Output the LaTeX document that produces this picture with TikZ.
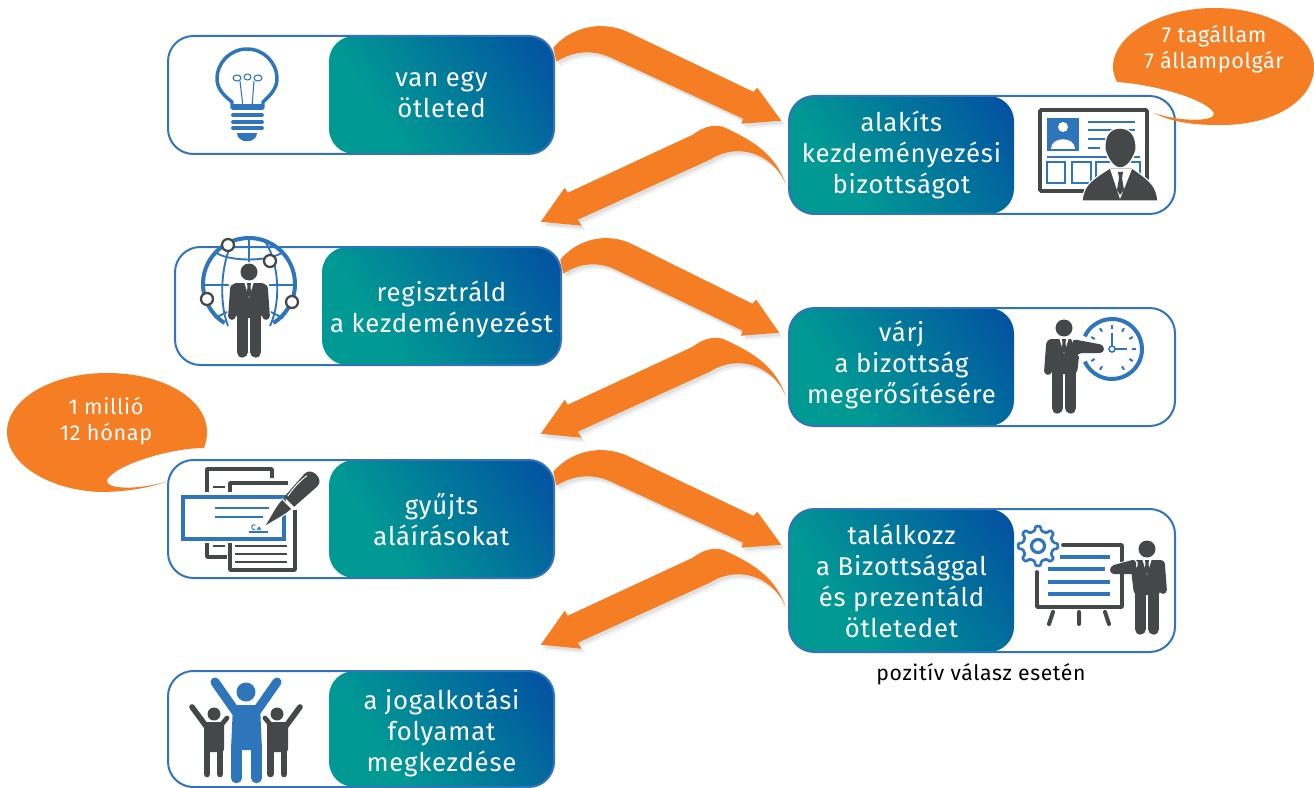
\documentclass[tikz,border=0pt]{standalone}
\usepackage{fontspec}
\setmainfont[LetterSpace=3.0]{Fira Sans}
\usetikzlibrary{calc}
\definecolor{iconblue}{RGB}{46,117,187}
\definecolor{linkblue}{RGB}{50,115,185}
\definecolor{darkgrey}{RGB}{69,72,73}
\definecolor{orangeA}{RGB}{245,126,37}
\definecolor{tealA}{RGB}{0,153,148}
\definecolor{navyA}{RGB}{3,78,162}
\pgfdeclarehorizontalshading{tealnavy}{100bp}{color(0bp)=(tealA); color(33bp)=(tealA); color(85bp)=(navyA); color(100bp)=(navyA)}
\tikzset{
  outerbox/.style={draw=linkblue,line width=1.5pt,rounded corners=19pt,inner sep=0pt},
  innerbox/.style={rounded corners=19pt,inner sep=0pt,shading=tealnavy,shading angle=35},
  cardtext/.style={text=white,align=center,inner sep=0pt,font=\fontsize{19.3}{23.3}\selectfont},
  bubbletext/.style={text=white,align=center,font=\fontsize{16.2}{20}\selectfont},
  flowarrow/.style={fill=orangeA},
  ic/.style={draw=iconblue,line width=1.5pt},
  icthin/.style={draw=iconblue,line width=1.4pt},
  dk/.style={draw=darkgrey,line width=2.8pt},
}
% name, outer x1 y1 x2 y2, teal x1 x2, text, text nudge
\newcommand\stepcard[9]{%
  \pgfmathsetmacro\tcw{(#7-#6)*0.75}%
  \pgfmathsetmacro\tch{(#5-#3)*0.75}%
  \pgfmathsetmacro\ocw{(#4-#2)*0.75}%
  \node[innerbox,minimum width=\tcw pt,minimum height=\tch pt] (t#1) at ({(#6+#7)/2},{(#3+#5)/2}) {};
  \node[cardtext] (l#1) at ({(#6+#7)/2},{(#3+#5)/2+#9}) {#8};
  \node[outerbox,minimum width=\ocw pt,minimum height=\tch pt] (o#1) at ({(#2+#4)/2},{(#3+#5)/2}) {};
}
\newcommand\rightflow{(-1,12) .. controls (16,-8) and (46,-16) .. (73,-4) -- (199,56) -- (203,52) -- (227,85) -- (187,88) -- (189,83) -- (59,23) .. controls (41,14) and (21,14) .. (2,26) -- cycle}
\newcommand\leftflow{(-3,89) .. controls (-12,62) and (-30,47) .. (-66,31) .. controls (-78,28) and (-88,33) .. (-96,39) -- (-221,97) -- (-224,92) -- (-248,126) -- (-207,130) -- (-211,124) -- (-79,64) .. controls (-60,52) and (-40,54) .. (-26,62) .. controls (-16,68) and (-8,76) .. (-3,89) -- cycle}
\newcommand\drawflow[1]{%
  \fill[black,opacity=.05] [shift={(4,5)}] #1;
  \fill[black,opacity=.07] [shift={(2,3)}] #1;
  \fill[flowarrow] #1;
}
% standing man, head centre at #1,#2
\newcommand\suitman[2]{%
  \begin{scope}[shift={(#1,#2)}]
    \fill[darkgrey] (0,0) circle (8.5);
    \fill[darkgrey,rounded corners=3pt] (-17,11) -- (17,11) -- (13,46) -- (-13,46) -- cycle;
    \draw[darkgrey,line width=8.4pt,line cap=round] (-6.6,42) -- (-6.6,80) (6.6,42) -- (6.6,80);
    \fill[white] (-4.5,11) -- (0,26) -- (4.5,11) -- cycle;
    \fill[darkgrey] (-2,11) -- (2,11) -- (1.5,15) -- (2.5,22) -- (0,25) -- (-2.5,22) -- (-1.5,15) -- cycle;
  \end{scope}}
\begin{document}
\begin{tikzpicture}[x=0.75pt,y=-0.75pt]
\useasboundingbox (0,0) rectangle (1314,788);
\fill[white] (0,0) rectangle (1314,788);

% cards
\stepcard{a}{168}{36}{554}{154}{329}{554}{van egy\\ötleted}{0}
\stepcard{b}{789}{96}{1175}{214}{789}{1014}{alakíts\\kezdeményezési\\bizottságot}{0}
\stepcard{c}{175}{247}{561}{365}{322}{561}{regisztráld\\a kezdeményezést}{3}
\stepcard{d}{789}{308}{1175}{426}{789}{1014}{várj\\a bizottság\\megerősítésére}{-2}
\stepcard{e}{168}{460}{554}{578}{329}{554}{gyűjts\\aláírásokat}{0}
\stepcard{f}{789}{509}{1175}{652}{789}{1014}{találkozz\\a Bizottsággal\\és prezentáld\\ötletedet}{0}
\stepcard{g}{168}{671}{554}{787}{329}{554}{a jogalkotási\\folyamat\\megkezdése}{4}

% flow arrows
\begin{scope}[shift={(ta.north east)}]\drawflow{\rightflow}\end{scope}
\begin{scope}[shift={(tb.north west)}]\drawflow{\leftflow}\end{scope}
\begin{scope}[shift={($(tc.north east)+(0,1)$)},xscale=.96]\drawflow{\rightflow}\end{scope}
\begin{scope}[shift={(td.north west)}]\drawflow{\leftflow}\end{scope}
\begin{scope}[shift={(te.north east)}]\drawflow{\rightflow}\end{scope}
\begin{scope}[shift={($(tf.north west)+(0,10)$)}]\drawflow{\leftflow}\end{scope}

% bubbles
\fill[orangeA] (1117,82) .. controls (1150,84) and (1205,98) .. (1214,113) .. controls (1216,122) and (1180,122) .. (1154,113) .. controls (1175,124) and (1200,125) .. (1221,125) .. controls (1275,125) and (1314,100) .. (1314,67) .. controls (1314,35) and (1270,8) .. (1214,8) .. controls (1160,8) and (1113,35) .. (1113,67) .. controls (1113,73) and (1115,78) .. (1117,82) -- cycle;
\node[bubbletext] (bubA) at (1214,49) {7 tagállam\\7 állampolgár};
\fill[orangeA] (204,448) .. controls (170,448) and (115,465) .. (107,480) .. controls (105,490) and (140,490) .. (168,481) .. controls (150,488) and (125,492) .. (100,492) .. controls (50,490) and (7,465) .. (7,432) .. controls (7,400) and (50,373) .. (107,373) .. controls (165,373) and (207,400) .. (207,432) .. controls (207,438) and (206,443) .. (204,448) -- cycle;
\node[bubbletext] (bubB) at (106,421) {1 millió\\12 hónap};

\node[text=black,font=\fontsize{15.9}{18}\selectfont] (note) at (981,674) {pozitív válasz esetén};

% --- bulb
\draw[ic,line width=2.6pt,line join=round] (232,108) -- (232,102) .. controls (226,97) and (217,90) .. (217,79) arc (180:360:30) .. controls (277,90) and (268,97) .. (263,102) -- (263,108) -- cycle;
\fill[iconblue] (232,104) rectangle (263,110);
\draw[iconblue,line width=.8pt] (243,107) -- (240,81) (252,107) -- (254,81);
\draw[iconblue,line width=.8pt] (237,78) ellipse (4 and 3) (247.5,77) ellipse (3.5 and 3) (258,78) ellipse (4 and 3);
\draw[iconblue,line width=2.8pt,line cap=round] (233,115) -- (262,115) (233,122) -- (262,122) (233,128) -- (262,128);
\fill[iconblue] (237,133) -- (257,133) .. controls (257,144) and (237,144) .. (237,133) -- cycle;

% --- presenter with card
\draw[dk,rounded corners=1pt] (1040,110) rectangle (1147,191);
\fill[iconblue] (1047,118) rectangle (1079,151);
\fill[white] (1063,127) circle (5);
\fill[white] (1051,149) .. controls (1051,136) and (1075,136) .. (1075,149) -- cycle;
\draw[icthin] (1088,122) -- (1135,122) (1088,130) -- (1135,130) (1088,139) -- (1110,139) (1088,148) -- (1100,148) (1047,157) -- (1140,157);
\draw[ic,line width=1.7pt] (1047,162) rectangle (1065,183) (1072,162) rectangle (1091,183) (1096,162) rectangle (1140,183);
\fill[darkgrey,draw=white,line width=1pt] (1120,128) .. controls (1108,128) and (1104,138) .. (1105,150) .. controls (1108,160) and (1114,168) .. (1120,168) .. controls (1127,168) and (1133,160) .. (1136,150) .. controls (1137,138) and (1132,128) .. (1120,128) -- cycle;
\fill[darkgrey,draw=white,line width=.8pt] (1082,201) .. controls (1084,186) and (1088,182) .. (1110,168) -- (1132,168) .. controls (1152,182) and (1156,186) .. (1158,201) -- cycle;
\fill[white] (1110,169) -- (1120,199) -- (1132,169) -- cycle;
\fill[darkgrey] (1118,172) -- (1123,172) -- (1122,178) -- (1124,190) -- (1120,195) -- (1117,190) -- (1119,178) -- cycle;

% --- globe man
\draw[ic,line width=3pt] (249,284) ++(122:46) arc (122:418:46);
\draw[icthin] (249,238) -- (249,262) (203,285) -- (230,285) (268,285) -- (295,285);
\draw[icthin] (232,243) .. controls (222,262) and (218,300) .. (228,326) (266,243) .. controls (278,262) and (282,300) .. (270,326);
\draw[icthin] (215,252) .. controls (228,262) and (270,262) .. (283,252) (215,318) -- (227,312) (283,318) -- (271,312);
\foreach \cx/\cy in {228/245,270/261,207/299,292/302}{\fill[white,draw=darkgrey,line width=1.7pt] (\cx,\cy) circle (6);}
\draw[white,line width=1.5pt] (230,284) -- (229,322) (268,284) -- (269,322);
\suitman{249}{272}
\draw[darkgrey,line width=5.8pt,line cap=round] (234,288) -- (232,316) (264,288) -- (266,316);

% --- clock man
\draw[ic,line width=3pt] (1112,349) ++(205:30) arc (205:515:30);
\foreach \a in {0,30,60,120,150,210,240,270,300,330}{\draw[icthin,line width=1.5pt] (1112,349) ++(\a:20) -- ++(\a:4);}
\draw[ic,line width=1.6pt] (1112,349) -- (1112,333) (1112,349) -- (1127,349);
\suitman{1064}{328}
\fill[white] (1070,336) -- (1106,343) -- (1106,356) -- (1078,356) -- cycle;
\fill[darkgrey,rounded corners=3pt] (1072,339) -- (1104,345) -- (1104,353) -- (1078,353) -- (1074,362) -- cycle;
\draw[darkgrey,line width=5.8pt,line cap=round] (1050,344) -- (1048,371);
\fill[white,draw=iconblue,line width=1.2pt] (1112,349) circle (3);

% --- board man
\draw[dk,line cap=round,line join=round] (1063,545) -- (1122,545) -- (1122,607) -- (1037,607) -- (1037,572);
\draw[ic,line width=2.4pt] (1060,557) -- (1110,557) (1048,569) -- (1105,569) (1048,582) -- (1110,582) (1048,594) -- (1110,594);
\draw[darkgrey,line width=3pt,line cap=round] (1053,612) -- (1049,624) (1079,612) -- (1079,624) (1105,612) -- (1109,624);
\begin{scope}[shift={(1038,546)}]
  \draw[ic,line width=2pt,fill=white,line join=round,rounded corners=1pt] (-11:15.5) \foreach \a in {0,45,...,315}{ -- ({\a-11}:15.5) -- ({\a-8}:20) -- ({\a+8}:20) -- ({\a+11}:15.5)} -- cycle;
  \draw[ic,line width=2.4pt] (0,0) circle (6.5);
\end{scope}
\suitman{1147}{549}
\draw[white,line width=7.5pt,line cap=round] (1133,564) -- (1111,570);
\fill[darkgrey,rounded corners=3pt] (1136,559) -- (1110,566) -- (1110,574) -- (1136,574) -- cycle;
\draw[darkgrey,line width=5.8pt,line cap=round] (1161,564) -- (1163,590);

% --- documents and pen
\draw[dk,line join=round] (207,492) -- (207,469) -- (272,469) -- (272,478) (230,492) -- (230,483) -- (288,483) (207,543) -- (207,557) -- (227,557) (230,543) -- (230,570) -- (295,570) -- (295,510);
\draw[darkgrey,line width=1.8pt] (213,487) -- (225,487) (213,546) -- (225,546) (235,546) -- (287,546) (235,554) -- (287,554) (235,562) -- (287,562);
\draw[ic,line width=3pt,fill=white] (183,497) rectangle (284,539);
\draw[icthin] (215,508) -- (269,508) (215,517) -- (263,517);
\draw[iconblue,line width=1pt] (249,532) -- (268,532);
\draw[iconblue,line width=.7pt] (256,525) .. controls (251,523) and (250,530) .. (255,530) (257,530) .. controls (259,526) and (261,527) .. (259,530) (259,528) -- (261,530);
\begin{scope}[shift={(263,528)},rotate=45]
  \fill[darkgrey,draw=white,line width=.8pt] (0,0) .. controls (12,-2) and (24,-7) .. (34,-7) -- (34,7) .. controls (24,7) and (12,2) .. (0,0) -- cycle;
  \fill[darkgrey] (37,-7) -- (68,-9) .. controls (78,-9) and (78,9) .. (68,9) -- (37,7) -- cycle;
  \draw[white,line width=.7pt] (40,-5) .. controls (50,-7) and (60,-7) .. (68,-6);
\end{scope}

% --- cheering people
\draw[darkgrey,line width=4.2pt,line cap=round] (192,707) -- (206,726) (300,707) -- (286,726);
\draw[darkgrey,line width=3.6pt,line cap=round] (222,724) -- (227,718) (265,718) -- (270,724);
\fill[darkgrey] (214,714) circle (6.5) (277,714) circle (6.5);
\fill[darkgrey,rounded corners=2pt] (204,722) -- (224,722) -- (224,752) -- (204,752) -- cycle;
\fill[darkgrey,rounded corners=2pt] (267,722) -- (288,722) -- (288,752) -- (267,752) -- cycle;
\draw[darkgrey,line width=5pt,line cap=round] (207,748) -- (207,774) (220,748) -- (220,774) (270.5,748) -- (270.5,774) (284,748) -- (284,774);
\fill[iconblue] (246,692) circle (9.5);
\draw[iconblue,line width=6.8pt,line cap=round] (215,682) -- (236,712) (277,682) -- (256,712);
\fill[iconblue] (233,705) -- (260,705) -- (262,750) -- (231,750) -- cycle;
\draw[iconblue,line width=7.9pt,line cap=round] (236.5,745) -- (236.5,778) (256.5,745) -- (256.5,778);
\end{tikzpicture}
\end{document}
